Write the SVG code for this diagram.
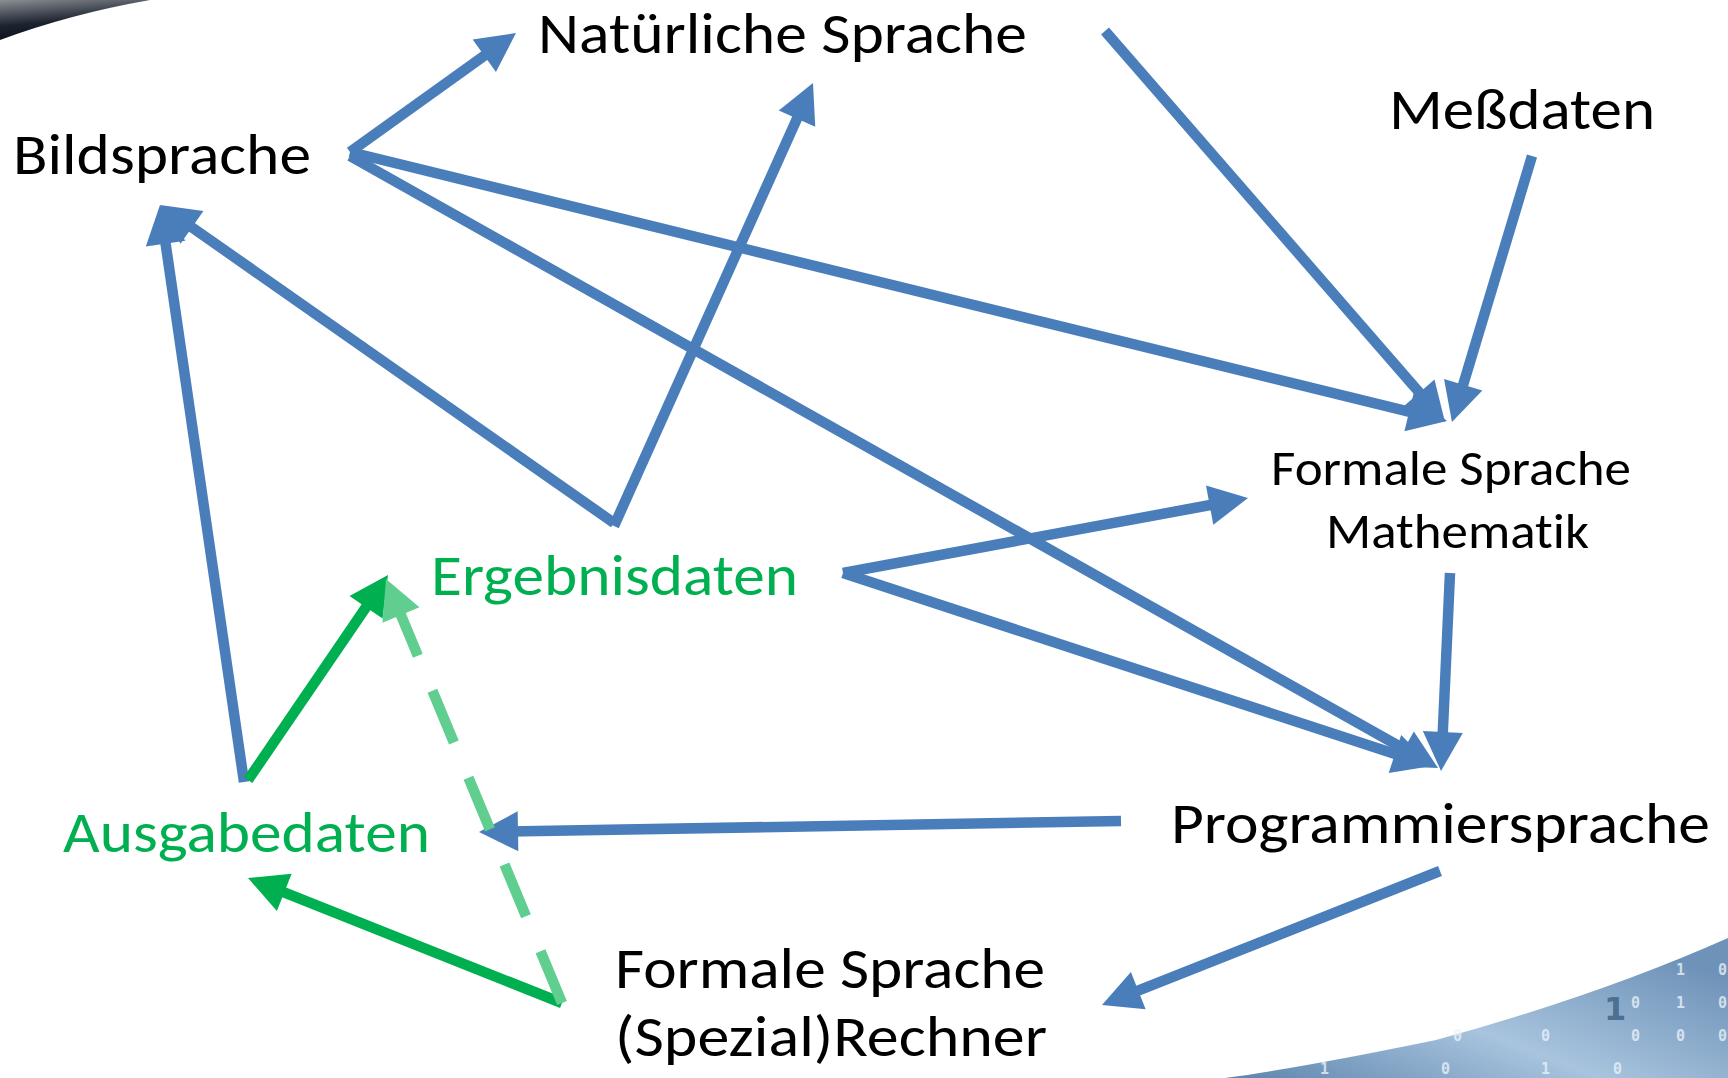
<svg xmlns="http://www.w3.org/2000/svg" width="1728" height="1078" viewBox="0 0 1728 1078">
<defs>
<style>
.lbl{font-family:Carlito,Calibri,Lato,"Open Sans",sans-serif;font-size:58px;fill:#000;font-variant-ligatures:none;font-feature-settings:"liga" 0,"dlig" 0}
.sm{font-size:49px}
.grn{fill:#00B050}
.c{fill:none;stroke-width:10.5;stroke-linecap:butt}
.b{stroke:#4A7EBB}
.g{stroke:#00B050}
.lg{stroke:#5FCE8F;stroke-dasharray:56 38}
.dig{font-family:"DejaVu Sans Mono",monospace;font-size:15px;font-weight:bold;fill:#EAF2FA;fill-opacity:0.8}
</style>
<marker id="ab" markerUnits="userSpaceOnUse" markerWidth="46" markerHeight="46" viewBox="-12 -23 46 46" refX="0" refY="0" orient="auto"><path d="M-9,-20 L30,0 L-9,20 Z" fill="#4A7EBB"/></marker>
<marker id="ag" markerUnits="userSpaceOnUse" markerWidth="46" markerHeight="46" viewBox="-12 -23 46 46" refX="0" refY="0" orient="auto"><path d="M-9,-20 L30,0 L-9,20 Z" fill="#00B050"/></marker>
<marker id="alg" markerUnits="userSpaceOnUse" markerWidth="46" markerHeight="46" viewBox="-12 -23 46 46" refX="0" refY="0" orient="auto"><path d="M-9,-20 L30,0 L-9,20 Z" fill="#5FCE8F"/></marker>
<linearGradient id="sw" x1="0" y1="0" x2="0.3" y2="1"><stop offset="0" stop-color="#8a8e94"/><stop offset="0.6" stop-color="#1c2330"/><stop offset="1" stop-color="#0b1018"/></linearGradient>
<linearGradient id="bin" x1="0" y1="1" x2="1" y2="0.3"><stop offset="0" stop-color="#5d84ad"/><stop offset="0.5" stop-color="#a8c4de"/><stop offset="1" stop-color="#6f93b8"/></linearGradient>
</defs>
<rect width="1728" height="1078" fill="#fff"/>
<g id="decor">
<path d="M0,0 L150,0 Q70,14 0,40 Z" fill="url(#sw)"/>
<path d="M1225,1078 Q1300,1068 1436,1040 Q1600,995 1728,938 L1728,1078 Z" fill="url(#bin)"/>
<text class="dig" x="1676" y="975">1</text><text class="dig" x="1718" y="975">0</text>
<text class="dig" x="1631" y="1008">0</text><text class="dig" x="1676" y="1008">1</text><text class="dig" x="1718" y="1008">0</text>
<text class="dig" x="1453" y="1041">0</text><text class="dig" x="1541" y="1041">0</text><text class="dig" x="1631" y="1041">0</text><text class="dig" x="1676" y="1041">0</text><text class="dig" x="1718" y="1041">0</text>
<text class="dig" x="1320" y="1074">1</text><text class="dig" x="1441" y="1074">0</text><text class="dig" x="1541" y="1074">1</text><text class="dig" x="1613" y="1074">0</text>
<text style="font-family:'DejaVu Sans',sans-serif;font-size:32px;font-weight:bold;fill:#4c6f92" x="1604" y="1020">1</text>
</g>
<g id="connectors">
<line class="c b" x1="350" y1="152" x2="491.6" y2="50.5" marker-end="url(#ab)"/>
<line class="c b" x1="350" y1="152" x2="1417.9" y2="413.9" marker-end="url(#ab)"/>
<line class="c b" x1="350" y1="156" x2="1411.9" y2="753.3" marker-end="url(#ab)"/>
<line class="c b" x1="1105" y1="31" x2="1425.3" y2="399.4" marker-end="url(#ab)"/>
<line class="c b" x1="1532" y1="156" x2="1460.6" y2="393.3" marker-end="url(#ab)"/>
<line class="c b" x1="1450" y1="573" x2="1442.4" y2="741" marker-end="url(#ab)"/>
<line class="c b" x1="614" y1="523" x2="184.6" y2="222.2" marker-end="url(#ab)"/>
<line class="c b" x1="614" y1="526" x2="800.7" y2="110.4" marker-end="url(#ab)"/>
<line class="c b" x1="843" y1="573" x2="1218.5" y2="503.5" marker-end="url(#ab)"/>
<line class="c b" x1="843" y1="573" x2="1403.5" y2="756.7" marker-end="url(#ab)"/>
<line class="c b" x1="1121" y1="821" x2="509" y2="831.5" marker-end="url(#ab)"/>
<line class="c b" x1="1440" y1="871" x2="1129.9" y2="993.9" marker-end="url(#ab)"/>
<line class="c b" x1="244" y1="782" x2="164.3" y2="234.7" marker-end="url(#ab)"/>
<line class="c g" x1="248" y1="780" x2="371.1" y2="599.8" marker-end="url(#ag)"/>
<line class="c g" x1="562" y1="1003" x2="275.9" y2="889.1" marker-end="url(#ag)"/>
<line class="c lg" x1="562" y1="1003" x2="397.5" y2="606.7" marker-end="url(#alg)"/>
</g>
<g id="n-natuerlich"><text class="lbl" x="538" y="53" textLength="489" lengthAdjust="spacingAndGlyphs">Natürliche Sprache</text></g>
<g id="n-bild"><text class="lbl" x="13" y="174" textLength="298" lengthAdjust="spacingAndGlyphs">Bildsprache</text></g>
<g id="n-mess"><text class="lbl" x="1389" y="129" textLength="266" lengthAdjust="spacingAndGlyphs">Meßdaten</text></g>
<g id="n-formal-math"><text class="lbl sm" x="1271" y="485" textLength="360" lengthAdjust="spacingAndGlyphs">Formale Sprache</text><text class="lbl sm" x="1326" y="548" textLength="263" lengthAdjust="spacingAndGlyphs">Mathematik</text></g>
<g id="n-ergebnis"><text class="lbl grn" x="431" y="595" textLength="367" lengthAdjust="spacingAndGlyphs">Ergebnisdaten</text></g>
<g id="n-ausgabe"><text class="lbl grn" x="63" y="852" textLength="367" lengthAdjust="spacingAndGlyphs">Ausgabedaten</text></g>
<g id="n-programm"><text class="lbl" x="1171" y="843" textLength="539" lengthAdjust="spacingAndGlyphs">Programmiersprache</text></g>
<g id="n-formal-rechner"><text class="lbl" x="615" y="988" textLength="430" lengthAdjust="spacingAndGlyphs">Formale Sprache</text><text class="lbl" x="615" y="1056" textLength="432" lengthAdjust="spacingAndGlyphs">(Spezial)Rechner</text></g>
</svg>
